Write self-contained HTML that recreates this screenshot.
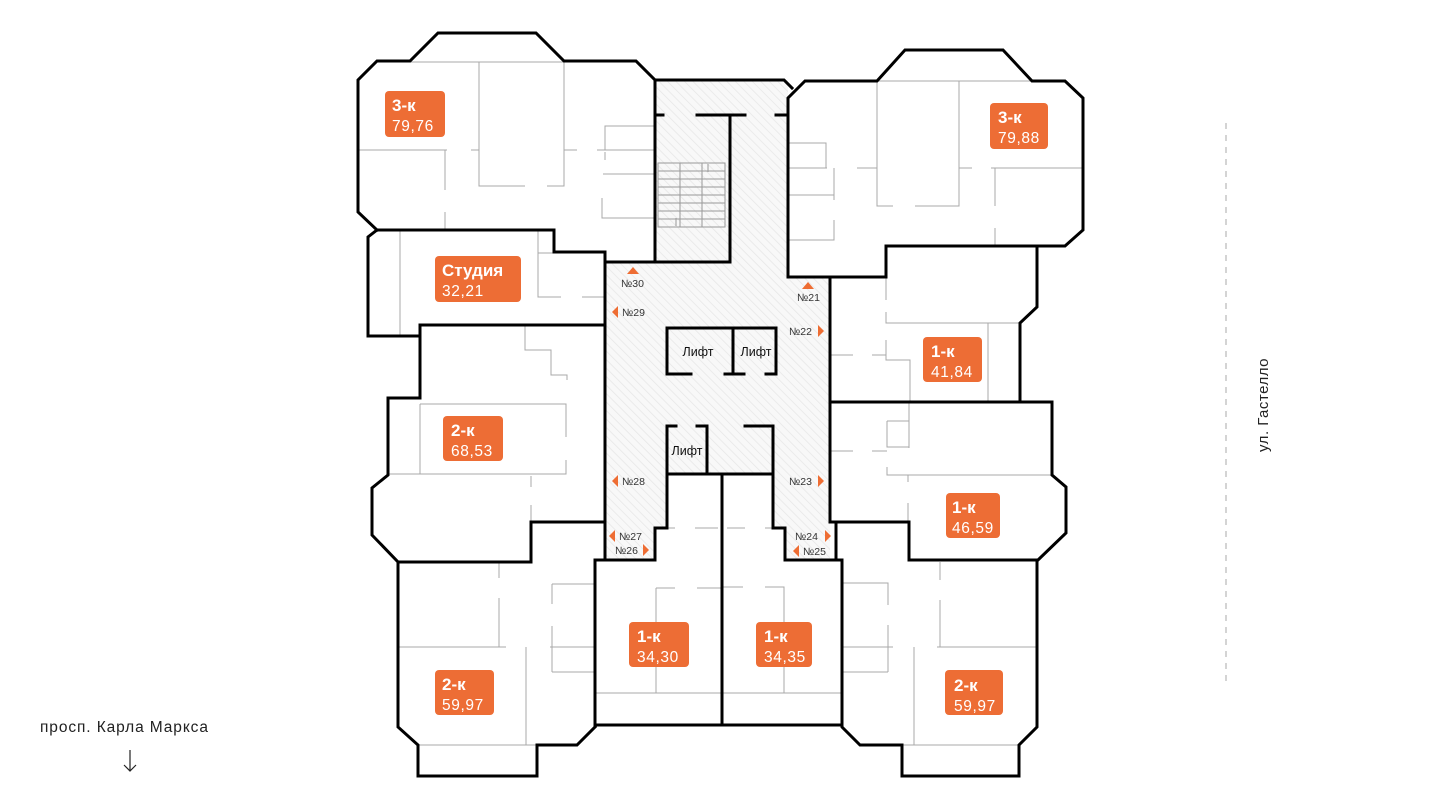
<!DOCTYPE html>
<html><head><meta charset="utf-8"><style>
html,body{margin:0;padding:0;background:#fff;}
svg{display:block;}
.t{font-family:"Liberation Sans",sans-serif;}
</style></head><body>
<svg width="1440" height="810" viewBox="0 0 1440 810" xmlns="http://www.w3.org/2000/svg">
<defs>
<pattern id="h" width="6" height="6" patternUnits="userSpaceOnUse" patternTransform="rotate(-45)">
<rect width="6" height="6" fill="#f8f8f8"/><line x1="0" y1="0" x2="0" y2="6" stroke="#e6e6e6" stroke-width="1.5"/>
</pattern>
</defs>
<path d="M655,80 H788 V277 H830 V560 H785 V528 H773 V474 H667 V528 H655 V560 H605 V262 H655 Z" fill="url(#h)"/>
<g stroke="#999" stroke-width="1" fill="none">
<rect x="658" y="163" width="67" height="64"/>
<line x1="680" y1="163" x2="680" y2="227"/><line x1="702" y1="163" x2="702" y2="227"/>
<line x1="658" y1="171" x2="725" y2="171"/><line x1="658" y1="179" x2="725" y2="179"/><line x1="658" y1="187" x2="725" y2="187"/><line x1="658" y1="195" x2="725" y2="195"/><line x1="658" y1="203" x2="725" y2="203"/><line x1="658" y1="211" x2="725" y2="211"/><line x1="658" y1="219" x2="725" y2="219"/>
<line x1="708" y1="164" x2="708" y2="172"/><line x1="676" y1="218" x2="676" y2="226"/>
</g>
<g stroke="#a8a8a8" stroke-width="1" fill="none">
<path d="M410,62 H636 M479,62 V186 H525 M547,186 H564 V62"/>
<path d="M358,150 H447 M471,150 H479 M564,150 H577 M597,150 H655"/>
<path d="M445,150 V190 M445,212 V230"/>
<path d="M605,150 V126 H655 M605,152 V160 M603,174 H655 M602,198 V218 H655"/>
<path d="M400,230 V336 M538,230 V297 H561 M582,297 H605 M538,253 H554"/>
<path d="M525,325 V350 H551 V375 H567 V380"/>
<path d="M420,404 H566 V437 M566,460 V474 H388 M420,404 V474 M531,476 V487 M531,505 V522"/>
<path d="M499,562 V578 M499,598 V647 M398,647 H506 M526,647 V745 M418,745 H577"/>
<path d="M552,584 V604 M552,584 H595 M552,626 V672 M550,647 H595 M552,672 H595"/>
<path d="M656,588 H675 M697,588 H722 M656,588 V622 M656,667 V693 M595,693 H722"/>
<path d="M667,528 H675 M695,528 H718 M727,528 H745 M765,528 H773"/>
<path d="M722,587 H743 M765,587 H784 V622 M784,667 V693 M722,693 H842"/>
<path d="M842,583 H888 V605 M888,625 V672 M842,647 H893 M842,672 H888"/>
<path d="M940,562 V580 M940,600 V647 M937,647 H1037 M914,647 V745 M860,745 H1019"/>
<path d="M909,402 V448 M887,421 H909 M887,421 V447 H909 M830,451 H853 M872,451 H887 M887,467 V475 H1052 M908,475 V482 M908,503 V522"/>
<path d="M886,277 V300 M886,312 V323 H1020 M988,323 V402 M830,355 H853 M872,355 H886 M886,340 V360 H910 V402"/>
<path d="M877,81 H1032 M877,81 V206 H893 M915,206 H959 V81"/>
<path d="M788,168 H827 M857,168 H877 M959,168 H972 M991,168 H1083 M995,168 V206 M995,228 V246"/>
<path d="M788,143 H826 V168 M788,195 H834 M834,168 V200 M834,220 V240 H788"/>
</g>
<g stroke="#000" stroke-width="3" fill="none" stroke-linejoin="miter" stroke-linecap="square">
<path d="M377,230 L358,212 V80 L377,61 H410 L438,33 H536 L564,61 H636 L655,80 V262"/>
<path d="M655,80 H784 L792,88"/>
<path d="M655,115 H663 M697,115 H745 M776,115 H788 M730,115 V262 M605,262 H730"/>
<path d="M605,252 H554 V230 H377 L368,237 V336 H420"/>
<path d="M605,325 H420 V398 H388 V475 L372,488 V535 L398,562 V727 L418,745 V776 H537 V745 H577 L595,727"/>
<path d="M398,562 H531 V522 H605"/>
<path d="M605,252 V560"/>
<path d="M595,560 H655 V528 H667 V474 H773 V528 H785 V560 H842"/>
<path d="M595,560 V725 H842 M722,474 V725"/>
<path d="M788,277 V98 L805,81 H877 L905,50 H1003 L1032,81 H1065 L1083,98 V230 L1065,246 H886 V277 H788"/>
<path d="M830,277 V522 H836 V560"/>
<path d="M1037,246 V307 L1020,323 V402"/>
<path d="M830,402 H1052 V475 L1066,487 V533 L1038,560 H909 V522 H830"/>
<path d="M842,560 V727 L860,745 H902 V776 H1019 V745 L1037,727 V560"/>
<path d="M667,374 V328 H776 V374 M667,374 H691 M725,374 H744 M766,374 H776 M733,328 V374"/>
<path d="M676,426 H667 V474 M697,426 H707 V474 M745,426 H773 V474"/>
</g>
<g class="t" font-size="12.5" fill="#111" text-anchor="middle">
<text x="698" y="356">Лифт</text><text x="756" y="356">Лифт</text><text x="687" y="455">Лифт</text>
</g>
<g fill="#ee6d33">
<path d="M627,274 L633,267 L639,274 Z"/>
<path d="M802,289 L808,282 L814,289 Z"/>
<path d="M618,306 L612,312 L618,318 Z"/>
<path d="M818,325 L824,331 L818,337 Z"/>
<path d="M618,475 L612,481 L618,487 Z"/>
<path d="M818,475 L824,481 L818,487 Z"/>
<path d="M615,530 L609,536 L615,542 Z"/>
<path d="M643,544 L649,550 L643,556 Z"/>
<path d="M825,530 L831,536 L825,542 Z"/>
<path d="M799,545 L793,551 L799,557 Z"/>
</g>
<g class="t" font-size="10.5" fill="#333">
<text x="621" y="287">№30</text>
<text x="797" y="301">№21</text>
<text x="622" y="316">№29</text>
<text x="789" y="335">№22</text>
<text x="622" y="485">№28</text>
<text x="789" y="485">№23</text>
<text x="619" y="540">№27</text>
<text x="615" y="554">№26</text>
<text x="795" y="540">№24</text>
<text x="803" y="555">№25</text>
</g>
<g fill="#ed6d35">
<rect x="385" y="91" width="60" height="46" rx="4"/>
<rect x="435" y="256" width="86" height="46" rx="4"/>
<rect x="443" y="416" width="60" height="45" rx="4"/>
<rect x="435" y="670" width="59" height="45" rx="4"/>
<rect x="629" y="622" width="60" height="45" rx="4"/>
<rect x="756" y="622" width="56" height="45" rx="4"/>
<rect x="990" y="103" width="58" height="46" rx="4"/>
<rect x="923" y="337" width="59" height="45" rx="4"/>
<rect x="946" y="493" width="54" height="45" rx="4"/>
<rect x="945" y="670" width="58" height="45" rx="4"/>
</g>
<g class="t" fill="#fff">
<g font-size="17" font-weight="bold">
<text x="392" y="111">3-к</text>
<text x="442" y="276">Студия</text>
<text x="451" y="436">2-к</text>
<text x="442" y="690">2-к</text>
<text x="637" y="642">1-к</text>
<text x="764" y="642">1-к</text>
<text x="998" y="123">3-к</text>
<text x="931" y="357">1-к</text>
<text x="952" y="513">1-к</text>
<text x="954" y="691">2-к</text>
</g>
<g font-size="15.5" letter-spacing="0.6">
<text x="392" y="131">79,76</text>
<text x="442" y="296">32,21</text>
<text x="451" y="456">68,53</text>
<text x="442" y="710">59,97</text>
<text x="637" y="662">34,30</text>
<text x="764" y="662">34,35</text>
<text x="998" y="143">79,88</text>
<text x="931" y="377">41,84</text>
<text x="952" y="533">46,59</text>
<text x="954" y="711">59,97</text>
</g>
</g>
<line x1="1226" y1="123" x2="1226" y2="686" stroke="#aaa" stroke-width="1" stroke-dasharray="6,6"/>
<text class="t" x="1268" y="405" font-size="15" letter-spacing="0.5" fill="#222" text-anchor="middle" transform="rotate(-90 1268 405)">ул. Гастелло</text>
<text class="t" x="40" y="732" font-size="15.5" letter-spacing="0.9" fill="#222">просп. Карла Маркса</text>
<g stroke="#222" stroke-width="1.2" fill="none">
<line x1="130" y1="750" x2="130" y2="771"/>
<path d="M124,765 L130,771 L136,765"/>
</g>
</svg>
</body></html>
